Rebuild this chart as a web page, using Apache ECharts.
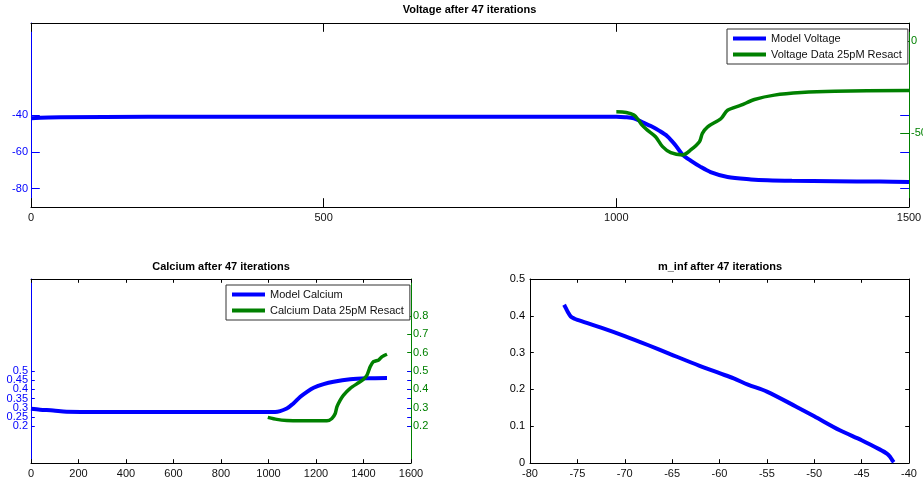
<!DOCTYPE html>
<html>
<head>
<meta charset="utf-8">
<script src="https://cdn.jsdelivr.net/npm/echarts@6/dist/echarts.min.js"></script>
<style>
  html, body { margin: 0; padding: 0; background: #fff; }
  #main { width: 923px; height: 482px; }
</style>
</head>
<body>
<div id="main"></div>
<script>
// voltage panel
var modelVoltageX = [0, 50, 200, 600, 1000, 1015, 1030, 1047, 1059, 1073, 1087, 1100, 1113, 1127, 1144, 1161, 1190, 1230, 1258, 1300, 1372, 1450, 1500]
var modelVoltage = [-41.7, -41.2, -41, -41, -41, -41.2, -41.8, -44.3, -46, -48.5, -51.5, -56, -61.5, -64.8, -68.2, -71, -73.7, -75, -75.5, -75.8, -76, -76.2, -76.4]
var dataVoltageX = [1000, 1017, 1030, 1038, 1044, 1053, 1067, 1079, 1093, 1113, 1127, 1142, 1147, 1156, 1179, 1190, 1213, 1236, 1270, 1316, 1373, 1500]
var dataVoltage = [-38.3, -38.6, -40, -42.8, -45.5, -48.2, -51.8, -57.2, -60.5, -61.7, -59, -54.5, -50, -46.4, -41.9, -37.4, -34.7, -31.6, -29.2, -27.8, -27.1, -26.7]
var voltageLeftTicks = [-80, -60, -40]
var voltageRightTicks = [-50, 0]

// calcium panel
var modelCalciumX = [0, 38, 94, 150, 300, 700, 1028, 1077, 1105, 1134, 1162, 1190, 1232, 1274, 1344, 1415, 1499]
var modelCalcium = [0.295, 0.29, 0.285, 0.278, 0.277, 0.277, 0.277, 0.296, 0.324, 0.36, 0.387, 0.409, 0.429, 0.442, 0.455, 0.46, 0.462]
var dataCalciumX = [997, 1035, 1077, 1134, 1246, 1267, 1281, 1288, 1302, 1316, 1344, 1379, 1400, 1415, 1428, 1442, 1464, 1478, 1499]
var dataCalcium = [0.248, 0.237, 0.231, 0.229, 0.229, 0.242, 0.269, 0.305, 0.342, 0.369, 0.406, 0.436, 0.455, 0.478, 0.523, 0.551, 0.56, 0.578, 0.591]
var calciumLeftTicks = [0.2, 0.25, 0.3, 0.35, 0.4, 0.45, 0.5]
var calciumRightTicks = [0.2, 0.3, 0.4, 0.5, 0.6, 0.7, 0.8]

// m_inf panel
var mInfV = [-76.4, -76.2, -76.0, -75.7, -75.3, -75, -72.5, -70, -67.5, -65.2, -62.1, -60, -58.5, -57, -55, -51.9, -50, -47.3, -45, -43.1, -42.3, -42, -41.8, -41.7, -41.6]
var mInf = [0.43, 0.42, 0.41, 0.398, 0.392, 0.389, 0.368, 0.345, 0.32, 0.296, 0.264, 0.244, 0.23, 0.213, 0.194, 0.153, 0.127, 0.089, 0.062, 0.037, 0.025, 0.017, 0.009, 0.005, 0.002]

var BLUE = '#0000ff'
var GREEN = '#008000'
var BLACK = '#000000'
var FONT = 'Liberation Sans'

function zip (xs, ys) {
  var out = []
  for (var i = 0; i < xs.length; i++) out.push([xs[i], ys[i]])
  return out
}

function plain (v) {
  return String(Math.round(v * 1000) / 1000)
}

// every other value, so the crowded labels are not dropped as overlapping
function everyOther (arr, start) {
  return arr.filter(function (v, i) { return i % 2 === start })
}

function xAx (grid, min, max, interval, top, tickLen) {
  return {
    type: 'value', gridIndex: grid, min: min, max: max, interval: interval,
    position: top ? 'top' : 'bottom',
    axisLine: { show: true, onZero: false, lineStyle: { color: BLACK, width: 1 } },
    axisTick: { show: true, inside: true, length: tickLen, lineStyle: { color: BLACK } },
    axisLabel: { show: !top, margin: 5, color: '#111', fontSize: 11, fontFamily: FONT,
      formatter: plain, showMinLabel: true, showMaxLabel: true, hideOverlap: false },
    splitLine: { show: false }
  }
}

function yAx (grid, min, max, side, color, ticks, tickLen, opts) {
  opts = opts || {}
  var ax = {
    type: 'value', gridIndex: grid, min: min, max: max, position: side,
    axisLine: { show: opts.line !== false, onZero: false, lineStyle: { color: color, width: 1 } },
    axisTick: { show: opts.ticks !== false, inside: true, length: tickLen, lineStyle: { color: color } },
    axisLabel: { show: opts.labels !== false, margin: opts.margin || 3, color: color, fontSize: 11, fontFamily: FONT,
      formatter: plain, showMinLabel: true, showMaxLabel: true, hideOverlap: false },
    splitLine: { show: false }
  }
  if (ticks) {
    ax.axisTick.customValues = ticks
    ax.axisLabel.customValues = opts.labelValues || ticks
  } else {
    ax.interval = opts.interval
  }
  return ax
}

function legendBox (names, left, top) {
  return {
    data: names, orient: 'vertical', left: left, top: top,
    icon: 'rect', itemWidth: 33, itemHeight: 4, itemGap: 5,
    padding: [4, 6, 4, 6],
    backgroundColor: '#fff', borderColor: '#333', borderWidth: 1,
    selectedMode: false,
    textStyle: { fontSize: 11, fontFamily: FONT, color: '#111' }
  }
}

var myChart = echarts.init(document.getElementById('main'))
myChart.setOption({
  backgroundColor: '#fff',
  animation: false,
  title: [
    { text: 'Voltage after 47 iterations', left: 469.5, top: 4, textAlign: 'center', padding: 0,
      textStyle: { fontSize: 11, fontWeight: 'bold', fontFamily: FONT, color: '#000' } },
    { text: 'Calcium after 47 iterations', left: 221, top: 261, textAlign: 'center', padding: 0,
      textStyle: { fontSize: 11, fontWeight: 'bold', fontFamily: FONT, color: '#000' } },
    { text: 'm_inf after 47 iterations', left: 720, top: 261, textAlign: 'center', padding: 0,
      textStyle: { fontSize: 11, fontWeight: 'bold', fontFamily: FONT, color: '#000' } }
  ],
  legend: [
    legendBox(['Model Voltage', 'Voltage Data 25pM Resact'], 727, 29),
    legendBox(['Model Calcium', 'Calcium Data 25pM Resact'], 226, 285)
  ],
  grid: [
    { left: 31, top: 23, width: 878, height: 184, outerBoundsMode: 'none', containLabel: false },
    { left: 31, top: 279, width: 380, height: 184, outerBoundsMode: 'none', containLabel: false },
    { left: 530, top: 279, width: 379, height: 184, outerBoundsMode: 'none', containLabel: false }
  ],
  xAxis: [
    xAx(0, 0, 1500, 500, false, 8.8),
    xAx(0, 0, 1500, 500, true, 8.8),
    xAx(1, 0, 1600, 200, false, 3.8),
    xAx(1, 0, 1600, 200, true, 3.8),
    xAx(2, -80, -40, 5, false, 3.8),
    xAx(2, -80, -40, 5, true, 3.8)
  ],
  yAxis: [
    yAx(0, -90, 10, 'left', BLUE, voltageLeftTicks, 8.8),
    yAx(0, -90, 10, 'right', GREEN, voltageRightTicks, 8.8, { margin: 2 }),
    yAx(0, -90, 10, 'right', BLUE, voltageLeftTicks, 8.8, { line: false, labels: false }),
    yAx(1, 0, 1, 'left', BLUE, calciumLeftTicks, 3.8, { labelValues: everyOther(calciumLeftTicks, 0) }),
    yAx(1, 0, 1, 'right', GREEN, calciumRightTicks, 3.8, { margin: 2 }),
    yAx(1, 0, 1, 'right', BLUE, calciumLeftTicks, 3.8, { line: false, labels: false }),
    yAx(2, 0, 0.5, 'left', BLACK, null, 3.8, { interval: 0.1, margin: 5 }),
    yAx(2, 0, 0.5, 'right', BLACK, null, 3.8, { interval: 0.1, labels: false }),
    yAx(1, 0, 1, 'left', BLUE, calciumLeftTicks, 3.8, { line: false, ticks: false, labelValues: everyOther(calciumLeftTicks, 1) })
  ],
  series: [
    { name: 'Model Voltage', type: 'line', xAxisIndex: 0, yAxisIndex: 0, showSymbol: false, symbol: 'none',
      data: zip(modelVoltageX, modelVoltage), smooth: 0.3, lineStyle: { color: BLUE, width: 4 }, itemStyle: { color: BLUE } },
    { name: 'Voltage Data 25pM Resact', type: 'line', xAxisIndex: 0, yAxisIndex: 1, showSymbol: false, symbol: 'none',
      data: zip(dataVoltageX, dataVoltage), smooth: 0.3, lineStyle: { color: GREEN, width: 3.5 }, itemStyle: { color: GREEN } },
    { name: 'Model Calcium', type: 'line', xAxisIndex: 2, yAxisIndex: 3, showSymbol: false, symbol: 'none',
      data: zip(modelCalciumX, modelCalcium), smooth: 0.3, lineStyle: { color: BLUE, width: 4 }, itemStyle: { color: BLUE } },
    { name: 'Calcium Data 25pM Resact', type: 'line', xAxisIndex: 2, yAxisIndex: 4, showSymbol: false, symbol: 'none',
      data: zip(dataCalciumX, dataCalcium), smooth: 0.2, lineStyle: { color: GREEN, width: 3.5 }, itemStyle: { color: GREEN } },
    { name: 'm_inf', type: 'line', xAxisIndex: 4, yAxisIndex: 6, showSymbol: false, symbol: 'none',
      data: zip(mInfV, mInf), smooth: 0.3, lineStyle: { color: BLUE, width: 4 }, itemStyle: { color: BLUE } }
  ]
})
window.onresize = myChart.resize
</script>
</body>
</html>
